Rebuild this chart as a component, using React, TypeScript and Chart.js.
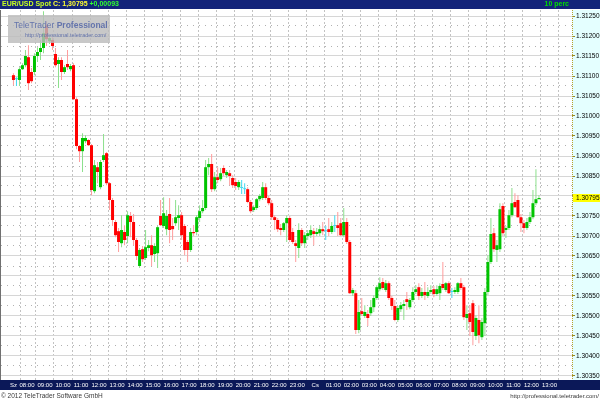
import React, { useEffect, useRef } from "react";
import { Chart, registerables } from "chart.js";

Chart.register(...registerables);

// ---------------- data ----------------
const symbolName = "EUR/USD Spot";
const periodLabel = "10 perc";
const dayChange = 0.00093;
const firstCandleTime = "07:10";
const candleMinutes = 10;
const startDayLabel = "Sz";
const nextDayLabel = "Cs";
const axisHours = [
  "08:00", "09:00", "10:00", "11:00", "12:00", "13:00", "14:00", "15:00",
  "16:00", "17:00", "18:00", "19:00", "20:00", "21:00", "22:00", "23:00",
  "00:00", "01:00", "02:00", "03:00", "04:00", "05:00", "06:00", "07:00",
  "08:00", "09:00", "10:00", "11:00", "12:00", "13:00",
];
const priceTicks = [
  1.3035, 1.304, 1.3045, 1.305, 1.3055, 1.306, 1.3065, 1.307, 1.3075, 1.308,
  1.3085, 1.309, 1.3095, 1.31, 1.3105, 1.311, 1.3115, 1.312, 1.3125,
];
const copyrightText = "\u00a9 2012 TeleTrader Software GmbH";
const siteUrl = "http://professional.teletrader.com/";
const watermarkBrand = "TeleTrader";
const watermarkProduct = "Professional";

const opens = [
  1.31102, 1.31092, 1.31090, 1.31117, 1.31127, 1.31147, 1.31110, 1.31110, 1.31150, 1.31160,
  1.31170, 1.31227, 1.31187, 1.31190, 1.31155, 1.31130, 1.31140, 1.31110, 1.31130, 1.31117,
  1.31127, 1.31042, 1.30925, 1.30912, 1.30937, 1.30940, 1.30927, 1.30812, 1.30872, 1.30822,
  1.30890, 1.30907, 1.30832, 1.30790, 1.30735, 1.30712, 1.30682, 1.30710, 1.30700, 1.30750,
  1.30735, 1.30690, 1.30625, 1.30667, 1.30645, 1.30670, 1.30677, 1.30655, 1.30657, 1.30750,
  1.30725, 1.30717, 1.30755, 1.30725, 1.30732, 1.30745, 1.30752, 1.30725, 1.30685, 1.30665,
  1.30710, 1.30710, 1.30745, 1.30762, 1.30770, 1.30872, 1.30880, 1.30817, 1.30847, 1.30842,
  1.30870, 1.30852, 1.30857, 1.30845, 1.30835, 1.30822, 1.30820, 1.30817, 1.30817, 1.30785,
  1.30765, 1.30770, 1.30792, 1.30795, 1.30822, 1.30795, 1.30782, 1.30747, 1.30740, 1.30720,
  1.30715, 1.30732, 1.30745, 1.30710, 1.30682, 1.30670, 1.30715, 1.30682, 1.30700, 1.30702,
  1.30712, 1.30705, 1.30707, 1.30717, 1.30712, 1.30717, 1.30710, 1.30725, 1.30727, 1.30732,
  1.30702, 1.30735, 1.30685, 1.30557, 1.30557, 1.30465, 1.30512, 1.30500, 1.30505, 1.30507,
  1.30522, 1.30545, 1.30567, 1.30585, 1.30565, 1.30582, 1.30545, 1.30525, 1.30490, 1.30517,
  1.30525, 1.30542, 1.30522, 1.30540, 1.30560, 1.30572, 1.30550, 1.30560, 1.30550, 1.30560,
  1.30567, 1.30555, 1.30557, 1.30580, 1.30565, 1.30582, 1.30560, 1.30560, 1.30560, 1.30582,
  1.30572, 1.30495, 1.30507, 1.30532, 1.30450, 1.30490, 1.30447, 1.30482, 1.30560, 1.30635,
  1.30707, 1.30665, 1.30667, 1.30775, 1.30715, 1.30720, 1.30752, 1.30785, 1.30790, 1.30747,
  1.30732, 1.30720, 1.30735, 1.30747, 1.30782, 1.30792,
];
const highs = [
  1.31107, 1.31097, 1.31122, 1.31132, 1.31165, 1.31177, 1.31120, 1.31157, 1.31172, 1.31190,
  1.31262, 1.31237, 1.31200, 1.31197, 1.31170, 1.31147, 1.31147, 1.31127, 1.31165, 1.31130,
  1.31132, 1.31047, 1.30927, 1.30957, 1.30952, 1.30942, 1.30930, 1.30890, 1.30885, 1.30890,
  1.30955, 1.30910, 1.30835, 1.30795, 1.30740, 1.30720, 1.30752, 1.30727, 1.30762, 1.30760,
  1.30755, 1.30695, 1.30670, 1.30675, 1.30715, 1.30690, 1.30702, 1.30682, 1.30725, 1.30790,
  1.30797, 1.30765, 1.30795, 1.30745, 1.30790, 1.30777, 1.30760, 1.30730, 1.30690, 1.30720,
  1.30727, 1.30752, 1.30777, 1.30790, 1.30890, 1.30895, 1.30905, 1.30860, 1.30872, 1.30870,
  1.30877, 1.30865, 1.30865, 1.30852, 1.30845, 1.30840, 1.30840, 1.30832, 1.30822, 1.30790,
  1.30777, 1.30795, 1.30805, 1.30835, 1.30832, 1.30800, 1.30790, 1.30752, 1.30745, 1.30730,
  1.30735, 1.30752, 1.30750, 1.30720, 1.30690, 1.30732, 1.30720, 1.30710, 1.30715, 1.30727,
  1.30720, 1.30720, 1.30725, 1.30735, 1.30725, 1.30745, 1.30735, 1.30752, 1.30760, 1.30745,
  1.30770, 1.30745, 1.30690, 1.30570, 1.30565, 1.30540, 1.30545, 1.30527, 1.30515, 1.30540,
  1.30552, 1.30577, 1.30597, 1.30595, 1.30590, 1.30587, 1.30550, 1.30540, 1.30525, 1.30535,
  1.30540, 1.30560, 1.30545, 1.30572, 1.30577, 1.30582, 1.30570, 1.30585, 1.30572, 1.30577,
  1.30575, 1.30577, 1.30582, 1.30635, 1.30585, 1.30587, 1.30570, 1.30572, 1.30585, 1.30595,
  1.30577, 1.30527, 1.30527, 1.30540, 1.30502, 1.30527, 1.30495, 1.30570, 1.30652, 1.30745,
  1.30720, 1.30690, 1.30782, 1.30782, 1.30725, 1.30765, 1.30820, 1.30807, 1.30802, 1.30755,
  1.30740, 1.30745, 1.30760, 1.30815, 1.30867, 1.30802,
];
const lows = [
  1.31077, 1.31075, 1.31075, 1.31115, 1.31122, 1.31065, 1.31082, 1.31102, 1.31135, 1.31140,
  1.31157, 1.31175, 1.31180, 1.31165, 1.31122, 1.31070, 1.31090, 1.31105, 1.31115, 1.31112,
  1.31040, 1.30917, 1.30885, 1.30860, 1.30932, 1.30925, 1.30802, 1.30807, 1.30832, 1.30817,
  1.30885, 1.30827, 1.30765, 1.30725, 1.30697, 1.30660, 1.30672, 1.30677, 1.30682, 1.30697,
  1.30677, 1.30640, 1.30620, 1.30635, 1.30640, 1.30662, 1.30625, 1.30635, 1.30620, 1.30725,
  1.30720, 1.30702, 1.30682, 1.30690, 1.30725, 1.30715, 1.30690, 1.30652, 1.30635, 1.30660,
  1.30700, 1.30702, 1.30735, 1.30757, 1.30765, 1.30852, 1.30810, 1.30812, 1.30832, 1.30837,
  1.30850, 1.30845, 1.30827, 1.30820, 1.30815, 1.30815, 1.30805, 1.30805, 1.30782, 1.30757,
  1.30760, 1.30765, 1.30787, 1.30790, 1.30790, 1.30777, 1.30740, 1.30715, 1.30710, 1.30702,
  1.30710, 1.30685, 1.30685, 1.30680, 1.30635, 1.30645, 1.30677, 1.30670, 1.30690, 1.30695,
  1.30677, 1.30700, 1.30700, 1.30702, 1.30690, 1.30700, 1.30705, 1.30710, 1.30700, 1.30700,
  1.30697, 1.30680, 1.30555, 1.30550, 1.30455, 1.30457, 1.30500, 1.30495, 1.30475, 1.30500,
  1.30510, 1.30540, 1.30562, 1.30565, 1.30560, 1.30540, 1.30515, 1.30487, 1.30485, 1.30510,
  1.30490, 1.30515, 1.30517, 1.30535, 1.30555, 1.30540, 1.30545, 1.30540, 1.30545, 1.30555,
  1.30547, 1.30550, 1.30540, 1.30565, 1.30560, 1.30555, 1.30545, 1.30555, 1.30555, 1.30565,
  1.30490, 1.30465, 1.30450, 1.30427, 1.30440, 1.30432, 1.30440, 1.30450, 1.30552, 1.30630,
  1.30660, 1.30635, 1.30660, 1.30700, 1.30695, 1.30715, 1.30747, 1.30770, 1.30745, 1.30710,
  1.30707, 1.30715, 1.30730, 1.30742, 1.30777, 1.30792,
];
const closes = [
  1.31090, 1.31092, 1.31117, 1.31127, 1.31150, 1.31082, 1.31087, 1.31150, 1.31160, 1.31170,
  1.31207, 1.31192, 1.31195, 1.31175, 1.31127, 1.31140, 1.31110, 1.31122, 1.31122, 1.31125,
  1.31042, 1.30925, 1.30912, 1.30945, 1.30945, 1.30927, 1.30815, 1.30877, 1.30860, 1.30885,
  1.30902, 1.30832, 1.30790, 1.30740, 1.30702, 1.30685, 1.30715, 1.30690, 1.30752, 1.30735,
  1.30690, 1.30650, 1.30665, 1.30642, 1.30672, 1.30677, 1.30652, 1.30675, 1.30722, 1.30727,
  1.30757, 1.30750, 1.30715, 1.30717, 1.30747, 1.30752, 1.30702, 1.30665, 1.30665, 1.30710,
  1.30707, 1.30747, 1.30762, 1.30770, 1.30872, 1.30880, 1.30817, 1.30847, 1.30840, 1.30857,
  1.30857, 1.30860, 1.30850, 1.30827, 1.30825, 1.30835, 1.30820, 1.30817, 1.30785, 1.30762,
  1.30772, 1.30792, 1.30800, 1.30822, 1.30795, 1.30782, 1.30747, 1.30740, 1.30717, 1.30715,
  1.30732, 1.30745, 1.30690, 1.30685, 1.30675, 1.30715, 1.30682, 1.30702, 1.30707, 1.30715,
  1.30705, 1.30710, 1.30717, 1.30712, 1.30712, 1.30710, 1.30725, 1.30725, 1.30720, 1.30702,
  1.30735, 1.30685, 1.30557, 1.30565, 1.30465, 1.30510, 1.30505, 1.30510, 1.30495, 1.30522,
  1.30545, 1.30572, 1.30582, 1.30570, 1.30582, 1.30545, 1.30525, 1.30490, 1.30520, 1.30527,
  1.30530, 1.30535, 1.30540, 1.30560, 1.30567, 1.30550, 1.30560, 1.30552, 1.30560, 1.30565,
  1.30555, 1.30567, 1.30575, 1.30570, 1.30582, 1.30557, 1.30560, 1.30565, 1.30582, 1.30570,
  1.30497, 1.30505, 1.30485, 1.30460, 1.30495, 1.30452, 1.30485, 1.30560, 1.30635, 1.30705,
  1.30667, 1.30677, 1.30767, 1.30707, 1.30720, 1.30752, 1.30782, 1.30772, 1.30747, 1.30732,
  1.30720, 1.30735, 1.30747, 1.30782, 1.30792, 1.30795,
];

// ---------------- style ----------------
const FONT = "'Liberation Sans', Arial, sans-serif";
const NAVY_TOP = "#13247a";
const NAVY_BOTTOM = "#0b1858";
const UP_BODY = "#00c400";
const DOWN_BODY = "#ff0000";
const FLAT = "#40d8f0";
const UP_WICK = "#8ce08c";
const DOWN_WICK = "#ff9c9c";

const toMin = (s: string) => {
  const [h, m] = s.split(":").map(Number);
  return h * 60 + m;
};

function buildHourTicks() {
  const start = toMin(firstCandleTime);
  let offset = 0;
  let prev = -1;
  const out: { value: number; label: string }[] = [{ value: 0, label: startDayLabel }];
  axisHours.forEach((h) => {
    const m = toMin(h);
    if (m < prev) offset += 1440;
    prev = m;
    out.push({
      value: (m + offset - start) / candleMinutes - 0.5,
      label: m === 0 ? nextDayLabel : h,
    });
  });
  return out;
}

export default function App() {
  const ref = useRef<HTMLCanvasElement>(null);

  useEffect(() => {
    document.body.style.margin = "0";
    const canvas = ref.current;
    if (!canvas) return;

    const lastClose = closes[closes.length - 1];
    const hourTicks = buildHourTicks();
    const minorTicks = priceTicks.slice(0, -1).map((v, i) => (v + priceTicks[i + 1]) / 2);
    const dir = (i: number) => (closes[i] > opens[i] ? 1 : closes[i] < opens[i] ? -1 : 0);
    const bodyData = closes.map((c, i) => ({ x: i, y: [opens[i], c] }));
    const wickData = closes.map((_, i) => ({ x: i, y: [lows[i], highs[i]] }));
    const bodyColors = closes.map((_, i) => (dir(i) > 0 ? UP_BODY : dir(i) < 0 ? DOWN_BODY : FLAT));
    const wickColors = closes.map((_, i) => (dir(i) > 0 ? UP_WICK : dir(i) < 0 ? DOWN_WICK : FLAT));

    const yMin = 1.3034;
    const yMax = 1.31265;
    const fmtComma = (v: number) => v.toFixed(5).replace(".", ",");

    const frame = {
      id: "frame",
      beforeDraw(chart: any) {
        const { ctx, width, height, chartArea: a } = chart;
        ctx.save();
        ctx.fillStyle = "#ffffff";
        ctx.fillRect(0, 0, width, height);
        ctx.fillStyle = "#e4ffff";
        ctx.fillRect(a.right, a.top, width - a.right, a.bottom - a.top);
        ctx.fillStyle = NAVY_TOP;
        ctx.fillRect(0, 0, width, a.top - 1);
        ctx.fillStyle = NAVY_BOTTOM;
        ctx.fillRect(0, a.bottom, width, 10);
        ctx.restore();
      },
      afterDatasetsDraw(chart: any) {
        const { ctx } = chart;
        ctx.save();
        ctx.fillStyle = "rgba(188,188,188,0.82)";
        ctx.fillRect(8, 15, 102, 28);
        ctx.fillStyle = "#6474ac";
        ctx.textBaseline = "alphabetic";
        ctx.font = `8.5px ${FONT}`;
        const brand = watermarkBrand + " ";
        ctx.fillText(brand, 14, 28);
        const bw = ctx.measureText(brand).width;
        ctx.font = `bold 8.5px ${FONT}`;
        ctx.fillText(watermarkProduct, 14 + bw, 28);
        ctx.font = `5.5px ${FONT}`;
        ctx.fillText(siteUrl, 25, 37);
        ctx.restore();
      },
      afterDraw(chart: any) {
        const { ctx, width, height, chartArea: a, scales } = chart;
        ctx.save();
        // right axis dotted border
        ctx.strokeStyle = "#b8a030";
        ctx.setLineDash([1, 1]);
        ctx.beginPath();
        ctx.moveTo(a.right + 0.5, a.top);
        ctx.lineTo(a.right + 0.5, a.bottom);
        ctx.stroke();
        ctx.setLineDash([]);
        // left border
        ctx.strokeStyle = "#707070";
        ctx.beginPath();
        ctx.moveTo(a.left - 0.5, a.top);
        ctx.lineTo(a.left - 0.5, a.bottom);
        ctx.stroke();
        // header
        ctx.textBaseline = "middle";
        ctx.font = `bold 7px ${FONT}`;
        let x = 2;
        const parts: [string, string][] = [
          [symbolName + " ", "#c8ff20"],
          ["C: " + fmtComma(lastClose) + " ", "#ffff30"],
          [(dayChange >= 0 ? "+" : "") + fmtComma(dayChange), "#30ff30"],
        ];
        parts.forEach(([t, c]) => {
          ctx.fillStyle = c;
          ctx.fillText(t, x, 4.5);
          x += ctx.measureText(t).width;
        });
        ctx.fillStyle = "#00e000";
        ctx.textAlign = "right";
        ctx.fillText(periodLabel, a.right - 3, 4.5);
        // current price marker
        const py = scales.y.getPixelForValue(lastClose);
        ctx.fillStyle = "#ffff00";
        ctx.fillRect(a.right + 1, py - 4, width - a.right - 1, 8);
        ctx.fillStyle = "#000000";
        ctx.textAlign = "left";
        ctx.font = `6.5px ${FONT}`;
        ctx.fillText(lastClose.toFixed(5), a.right + 4, py + 0.5);
        // footer
        ctx.fillStyle = "#3a3a3a";
        ctx.font = `6.5px ${FONT}`;
        ctx.textBaseline = "alphabetic";
        ctx.fillText(copyrightText, 1, height - 2);
        ctx.textAlign = "right";
        ctx.font = `6px ${FONT}`;
        ctx.fillText(siteUrl, width - 1, height - 2);
        ctx.restore();
      },
    };

    const chart = new Chart(canvas, {
      type: "bar",
      data: {
        datasets: [
          {
            label: "body",
            data: bodyData as any,
            backgroundColor: bodyColors,
            barThickness: 3,
            minBarLength: 1,
            grouped: false,
            order: 0,
            borderWidth: 0,
            inflateAmount: 0,
            xAxisID: "x",
            yAxisID: "y",
          } as any,
          {
            label: "wick",
            data: wickData as any,
            backgroundColor: wickColors,
            barThickness: 1,
            grouped: false,
            order: 1,
            borderWidth: 0,
            inflateAmount: 0,
            xAxisID: "x",
            yAxisID: "y",
          } as any,
        ],
      },
      options: {
        animation: false,
        responsive: false,
        devicePixelRatio: 1,
        events: [],
        layout: { padding: { left: 1, right: 0, top: 10, bottom: 10 } },
        plugins: { legend: { display: false }, tooltip: { enabled: false } },
        scales: {
          x: {
            type: "linear",
            position: "bottom",
            min: -1.08,
            max: 182.94,
            afterBuildTicks: (s: any) => {
              s.ticks = hourTicks.map((t) => ({ value: t.value }));
            },
            afterFit: (s: any) => {
              s.height = 10;
              s.paddingLeft = 0;
              s.paddingRight = 0;
            },
            ticks: {
              autoSkip: false,
              maxRotation: 0,
              minRotation: 0,
              color: "#ffffff",
              padding: 2,
              font: { family: FONT, size: 6 },
              callback: (_v: any, i: number) => hourTicks[i]?.label ?? "",
            },
            grid: {
              drawTicks: false,
              color: (c: any) => (c.index === 0 ? "rgba(0,0,0,0)" : "#c2c2c2"),
              lineWidth: 1,
            },
            border: { display: false, dash: [2, 2] },
          } as any,
          y: {
            type: "linear",
            position: "right",
            min: yMin,
            max: yMax,
            afterBuildTicks: (s: any) => {
              s.ticks = priceTicks.map((v) => ({ value: v }));
            },
            afterFit: (s: any) => {
              s.width = 28;
              s.paddingTop = 0;
              s.paddingBottom = 0;
            },
            ticks: {
              color: "#000000",
              padding: 1,
              font: { family: FONT, size: 6.5 },
              callback: (v: any) =>
                Math.abs(Number(v) - lastClose) < 0.00015 ? "" : Number(v).toFixed(5),
            },
            grid: { color: "#d6d6d6", tickColor: "#9c8a20", tickLength: 3, lineWidth: 1 },
            border: { display: false },
          } as any,
          y2: {
            type: "linear",
            position: "left",
            min: yMin,
            max: yMax,
            afterBuildTicks: (s: any) => {
              s.ticks = minorTicks.map((v) => ({ value: v }));
            },
            afterFit: (s: any) => {
              s.width = 0;
              s.paddingTop = 0;
              s.paddingBottom = 0;
            },
            ticks: { display: false },
            grid: { drawTicks: false, color: "#b0b0b0", lineWidth: 1 },
            border: { display: false, dash: [1, 5] },
          } as any,
        },
      },
      plugins: [frame],
    });

    return () => chart.destroy();
  }, []);

  return (
    <div style={{ width: 600, height: 400, position: "relative" }}>
      <canvas ref={ref} width={600} height={400} style={{ display: "block" }} />
    </div>
  );
}
